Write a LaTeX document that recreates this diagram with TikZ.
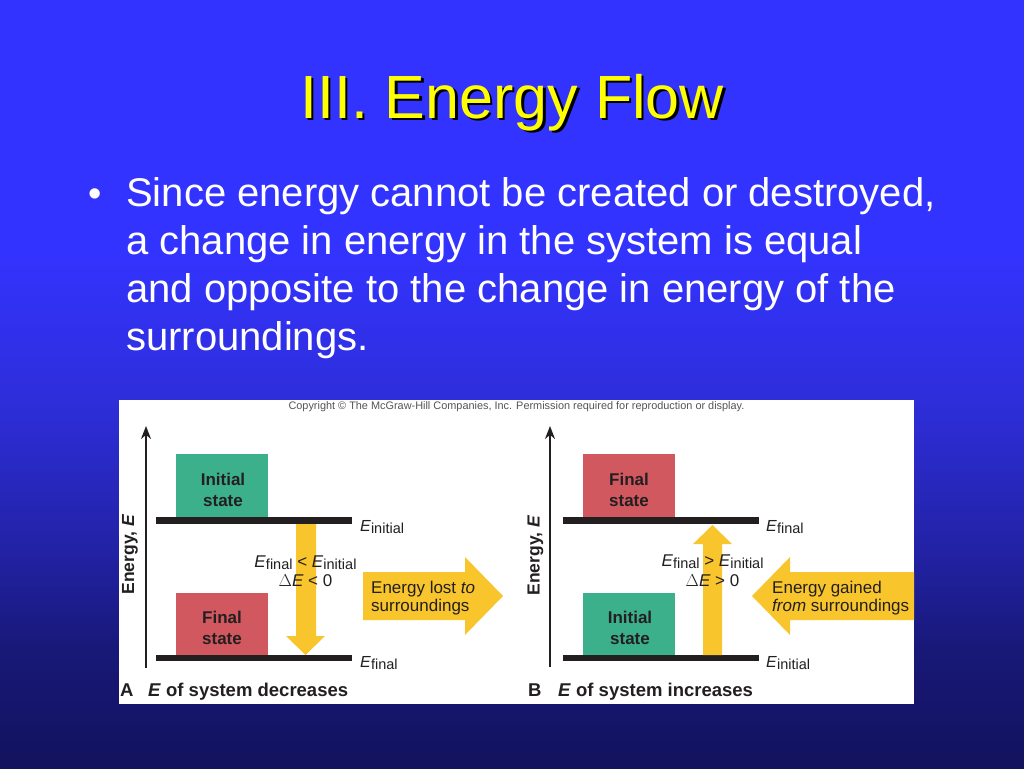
\documentclass[tikz,border=0pt]{standalone}
\usepackage{fontspec}
\setmainfont{Liberation Sans}
\usetikzlibrary{arrows.meta}
\definecolor{bgtop}{HTML}{3333FF}
\definecolor{bgA}{HTML}{2E2EDB}
\definecolor{bgB}{HTML}{2222A5}
\definecolor{bgC}{HTML}{181878}
\definecolor{bgbot}{HTML}{12125E}
\definecolor{titleyellow}{HTML}{FFFF00}
\definecolor{stgreen}{HTML}{3BB08B}
\definecolor{stred}{HTML}{D2585F}
\definecolor{arrowyellow}{HTML}{F8C52C}
\definecolor{figtext}{HTML}{231F20}
\definecolor{copygray}{HTML}{555555}
\pgfdeclareverticalshading{slidebg}{100bp}{color(0bp)=(bgbot); color(25bp)=(bgbot); color(32.7bp)=(bgC); color(39.2bp)=(bgB); color(49bp)=(bgA); color(58.7bp)=(bgtop); color(100bp)=(bgtop)}
\newcommand{\Esub}[1]{\textit{E}\raisebox{-2.5pt}{\fontsize{14.5}{14.5}\selectfont #1}}
\newcommand{\shadowtext}[1]{\makebox[0pt][l]{\hspace{2.5pt}\raisebox{-2.5pt}{\color{black}#1}}#1}
\begin{document}
\begin{tikzpicture}[x=1pt,y=-1pt,
  title/.style={font=\fontsize{61}{61}\selectfont, inner sep=0pt, anchor=base},
  bodyline/.style={font=\fontsize{40}{48}\selectfont, text=white, inner sep=0pt, anchor=base west},
  statebox/.style={minimum width=92pt, minimum height=63pt, inner sep=0pt, draw=none},
  boxlbl/.style={font=\bfseries\fontsize{17}{21}\selectfont, text=figtext, inner sep=0pt, anchor=base},
  levelbar/.style={fill=figtext, minimum width=196pt, minimum height=6.5pt, inner sep=0pt},
  levellbl/.style={font=\fontsize{16}{16}\selectfont, text=figtext, inner sep=0pt, anchor=base west},
  midlbl/.style={font=\fontsize{17}{17}\selectfont, text=figtext, inner sep=0pt, anchor=base},
  flowlbl/.style={font=\fontsize{17}{18}\selectfont, text=figtext, inner sep=0pt, anchor=base west},
  axislbl/.style={font=\bfseries\fontsize{17.5}{17.5}\selectfont, text=figtext, inner sep=0pt, rotate=90, anchor=base},
  caption/.style={font=\bfseries\fontsize{18.5}{18.5}\selectfont, text=figtext, inner sep=0pt, anchor=base west},
  energyaxis/.style={draw=figtext, line width=1.8pt, -{Stealth[length=13pt,width=10pt]}},
  blockarrow/.style={fill=arrowyellow, draw=none}
]
\useasboundingbox (0,0) rectangle (1024,768);
% background
\shade[shading=slidebg] (0,0) rectangle (1024,768);

% title with drop shadow
\node[title, text=titleyellow] (title) at (512,118) {\shadowtext{III. Energy Flow}};

% bullet text
\node[font=\fontsize{38}{48}\selectfont, text=white, inner sep=0pt, anchor=base west] (bullet) at (88.5,206) {•};
\node[bodyline] (l1) at (126,206) {Since energy cannot be created or destroyed,};
\node[bodyline] (l2) at (126,254) {a change in energy in the system is equal};
\node[bodyline] (l3) at (126,302) {and opposite to the change in energy of the};
\node[bodyline] (l4) at (126,350) {surroundings.};

% figure panel
\fill[white] (119,400) rectangle (914,704);
\node[font=\fontsize{10.9}{10.9}\selectfont, text=copygray, inner sep=0pt, anchor=base] (copy) at (516.5,409.5) {Copyright © The McGraw-Hill Companies, Inc. Permission required for reproduction or display.};

% ---------- Panel A ----------
\coordinate (aaxb) at (146,668);
\coordinate (aaxt) at (146,426);
\draw[energyaxis] (aaxb) -- (aaxt);
\node[axislbl] (aaxl) at (134,554.5) {Energy, \textit{E}};

\node[statebox, fill=stgreen] (ainit) at (222,485.5) {};
\node[boxlbl] (ainit1) at (223,485) {Initial};
\node[boxlbl] (ainit2) at (223,506) {state};
\node[statebox, fill=stred] (afin) at (222,624) {};
\node[boxlbl] (afin1) at (222,623) {Final};
\node[boxlbl] (afin2) at (222,644) {state};

\node[levelbar] (abar1) at (254,520.5) {};
\node[levelbar] (abar2) at (254,658) {};
\node[levellbl] (albl1) at (360,531) {\Esub{initial}};
\node[levellbl] (albl2) at (360,667) {\Esub{final}};

% down arrow
\fill[blockarrow] (296,524) -- (316,524) -- (316,636) -- (325,636) -- (305.5,655) -- (286,636) -- (296,636) -- cycle;
\node[midlbl] (amid1) at (305.5,567) {\Esub{final} < \Esub{initial}};
\node[midlbl] (amid2) at (305.5,586) {$\Delta$\textit{E} < 0};

% big right arrow
\fill[blockarrow] (363,572) -- (465,572) -- (465,557) -- (503,596) -- (465,635) -- (465,620) -- (363,620) -- cycle;
\node[flowlbl] (aflow1) at (371,593) {Energy lost \textit{to}};
\node[flowlbl] (aflow2) at (371,611) {surroundings};

\node[caption] (acapA) at (120,696) {A};
\node[caption] (acap) at (148,696) {\textit{E} of system decreases};

% ---------- Panel B ----------
\coordinate (baxb) at (550,667);
\coordinate (baxt) at (550,426);
\draw[energyaxis] (baxb) -- (baxt);
\node[axislbl] (baxl) at (539.5,555.5) {Energy, \textit{E}};

\node[statebox, fill=stred] (bfin) at (629,485.5) {};
\node[boxlbl] (bfin1) at (629,485) {Final};
\node[boxlbl] (bfin2) at (629,506) {state};
\node[statebox, fill=stgreen] (binit) at (629,624) {};
\node[boxlbl] (binit1) at (630,623) {Initial};
\node[boxlbl] (binit2) at (630,644) {state};

\node[levelbar] (bbar1) at (661,520.5) {};
\node[levelbar] (bbar2) at (661,658) {};
\node[levellbl] (blbl1) at (766,531) {\Esub{final}};
\node[levellbl] (blbl2) at (766,667) {\Esub{initial}};

% up arrow
\fill[blockarrow] (703,655) -- (722,655) -- (722,544) -- (732,544) -- (712.5,525) -- (693,544) -- (703,544) -- cycle;
\node[midlbl] (bmid1) at (712.5,566) {\Esub{final} > \Esub{initial}};
\node[midlbl] (bmid2) at (712.5,586) {$\Delta$\textit{E} > 0};

% big left arrow
\begin{scope}
\clip (119,400) rectangle (914,704);
\fill[blockarrow] (914,572) -- (790,572) -- (790,557) -- (752,596) -- (790,635) -- (790,620) -- (914,620) -- cycle;
\node[flowlbl] (bflow1) at (772,593) {Energy gained};
\node[flowlbl] (bflow2) at (772,611) {\textit{from} surroundings};
\end{scope}

\node[caption] (bcapB) at (528,696) {B};
\node[caption] (bcap) at (558,696) {\textit{E} of system increases};
\end{tikzpicture}
\end{document}
